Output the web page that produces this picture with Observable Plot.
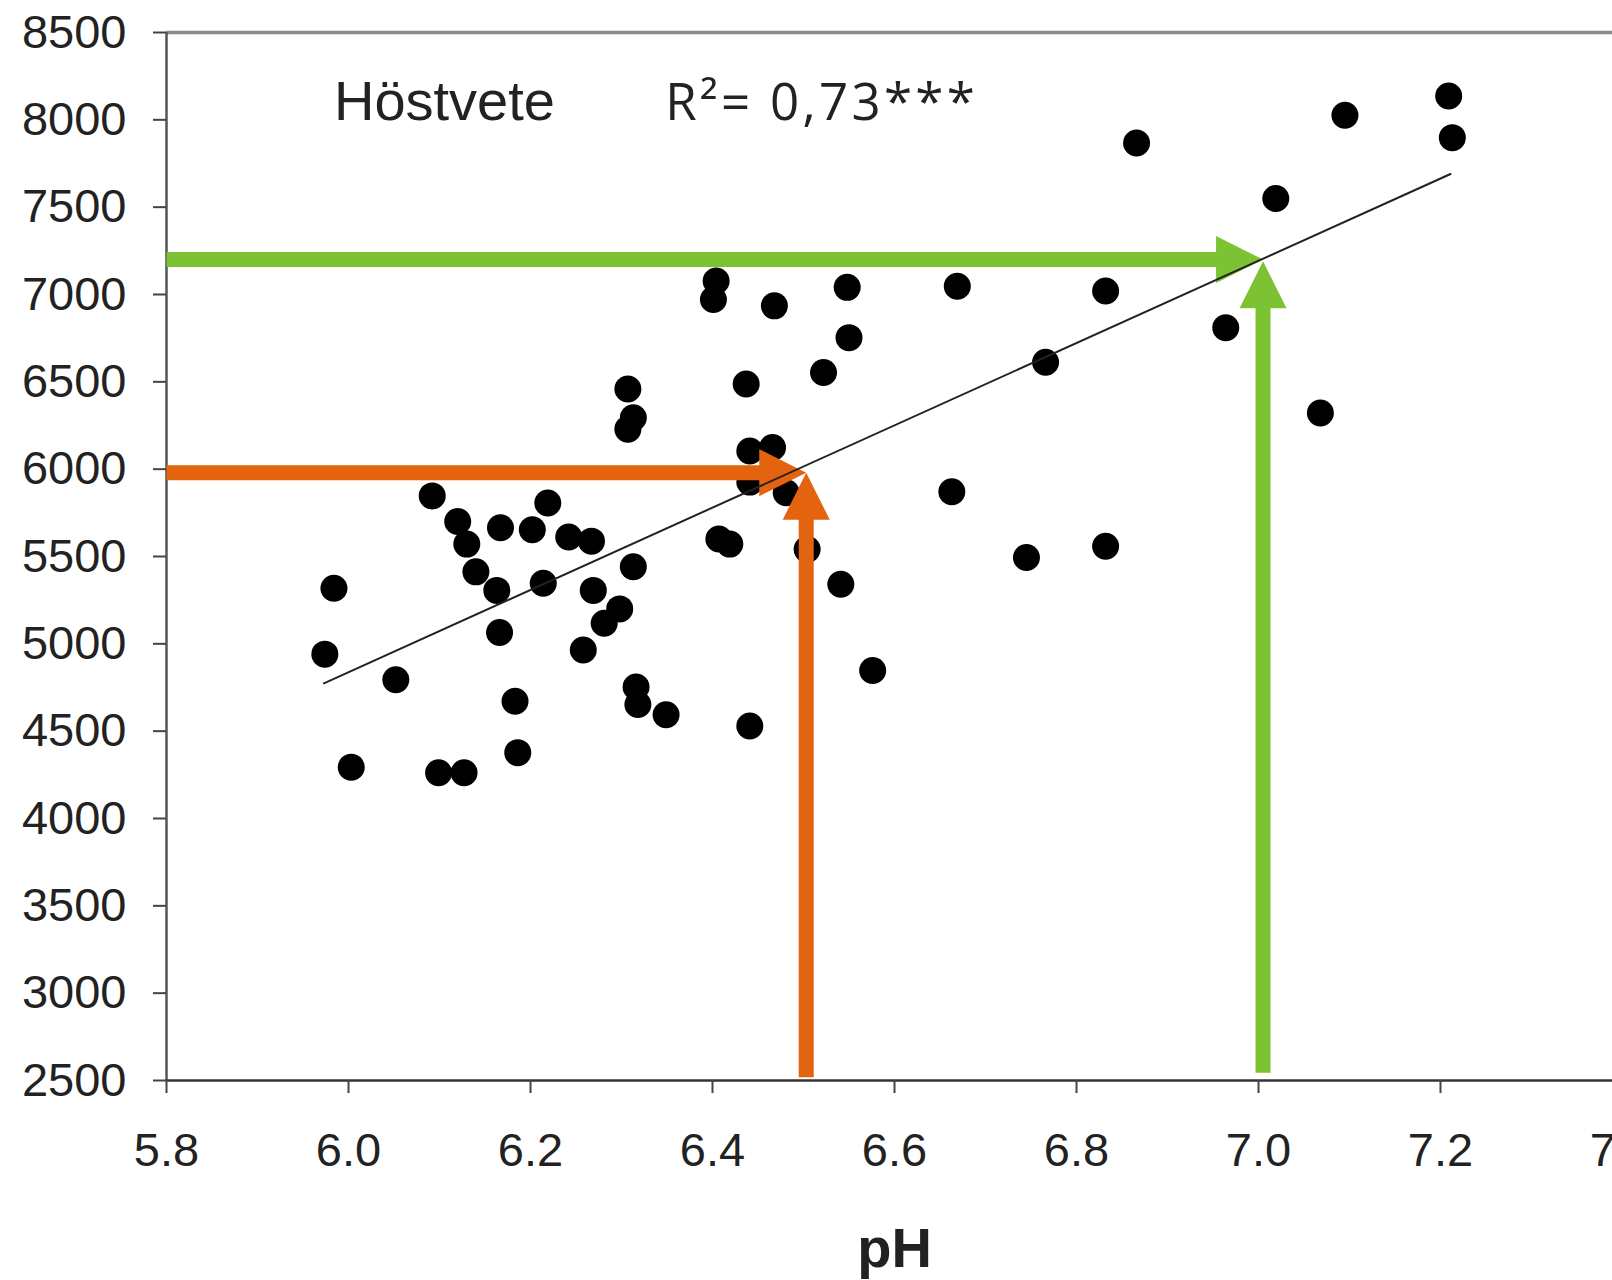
<!DOCTYPE html>
<html>
<head>
<meta charset="utf-8">
<script src="https://cdn.jsdelivr.net/npm/d3@7"></script>
<script src="https://cdn.jsdelivr.net/npm/@observablehq/plot@0.6"></script>
<style>
  html, body { margin: 0; padding: 0; background: #fff; overflow: hidden; }
  #chart { width: 1612px; height: 1280px; overflow: hidden; }
  #chart svg { max-width: none !important; }
  g[font-family="Open Sans"] text { letter-spacing: 3.3px; }
</style>
</head>
<body>
<div id="chart"></div>
<script>
// ---- data ----
const phValues = [5.974, 5.984, 6.003, 6.052, 6.092, 6.099, 6.120, 6.130, 6.127, 6.140,
  6.163, 6.167, 6.166, 6.183, 6.186, 6.202, 6.214, 6.219, 6.242, 6.258,
  6.267, 6.269, 6.281, 6.298, 6.307, 6.313, 6.307, 6.313, 6.316, 6.318,
  6.349, 6.401, 6.404, 6.407, 6.419, 6.437, 6.441, 6.441, 6.441, 6.466,
  6.468, 6.481, 6.504, 6.522, 6.541, 6.548, 6.550, 6.576, 6.663, 6.669,
  6.745, 6.766, 6.832, 6.832, 6.866, 6.964, 7.019, 7.068, 7.095, 7.209, 7.213];
const yieldValues = [4941, 5318, 4294, 4794, 5847, 4262, 5700, 5571, 4262, 5412,
  5306, 5665, 5065, 4671, 4377, 5653, 5347, 5806, 5612, 4965,
  5588, 5306, 5118, 5200, 6459, 6294, 6229, 5441, 4753, 4653,
  4594, 6971, 7077, 5600, 5571, 6488, 6104, 5926, 4530, 6124,
  6935, 5865, 5541, 6553, 5341, 7041, 6753, 4847, 5871, 7047,
  5494, 6612, 7020, 5559, 7867, 6810, 7550, 6322, 8026, 8136, 7898];

const xTicks = [5.8, 6.0, 6.2, 6.4, 6.6, 6.8, 7.0, 7.2, 7.4];
const yTicks = [2500, 3000, 3500, 4000, 4500, 5000, 5500, 6000, 6500, 7000, 7500, 8000, 8500];

// regression line (as drawn in the reference)
const trendPH = [5.973, 7.211];
const trendYield = [4774, 7690];

// reading arrows: from -> to (tip)
const arrowGroup = ["low", "low", "high", "high"];
const arrowFromPH = [5.8, 6.503, 5.8, 7.005];
const arrowFromYield = [5980, 2519, 7200, 2545];
const arrowToPH = [6.503, 6.503, 7.005, 7.005];
const arrowToYield = [5980, 5980, 7200, 7190];

// annotations
const titleText = ["Höstvete"];
const titlePH = [5.984];
const titleYield = [8100];
const r2Text = ["R²= 0,73***"];
const r2PH = [6.348];
const r2Yield = [8094];
const xLabel = ["pH"];

// ---- layout / styles ----
const W = 1650, H = 1280, ML = 166, MR = 28, MT = 32, MB = 200;
const HEAD = 47, HEADW = 47, SHAFT = 15;
const arrowColors = {low: "#e3630f", high: "#7cc233"};

const sx = Plot.scale({x: {domain: [5.8, 7.4], range: [ML, W - MR]}});
const sy = Plot.scale({y: {domain: [2500, 8500], range: [H - MB, MT]}});

const dots = phValues.map((p, i) => ({pH: p, yield: yieldValues[i]}));
const trend = trendPH.map((p, i) => ({pH: p, yield: trendYield[i]}));
const arrows = arrowFromPH.map((_, i) => {
  const px1 = sx.apply(arrowFromPH[i]), py1 = sy.apply(arrowFromYield[i]);
  const px2 = sx.apply(arrowToPH[i]), py2 = sy.apply(arrowToYield[i]);
  const len = Math.hypot(px2 - px1, py2 - py1);
  const ux = (px2 - px1) / len, uy = (py2 - py1) / len;
  const ex = px2 - ux * (HEAD - 2), ey = py2 - uy * (HEAD - 2);
  return {
    x1: arrowFromPH[i], y1: arrowFromYield[i],
    x2: sx.invert(ex), y2: sy.invert(ey),
    tx: arrowToPH[i], ty: arrowToYield[i],
    angle: Math.atan2(ux, -uy) * 180 / Math.PI,
    color: arrowColors[arrowGroup[i]]
  };
});
const arrowHead = {
  draw(ctx) {
    ctx.moveTo(0, 0);
    ctx.lineTo(HEADW / 2, HEAD);
    ctx.lineTo(-HEADW / 2, HEAD);
    ctx.closePath();
  }
};
const titles = titleText.map((t, i) => ({t, pH: titlePH[i], yield: titleYield[i]}));
const r2 = r2Text.map((t, i) => ({t, pH: r2PH[i], yield: r2Yield[i]}));

const chart = Plot.plot({
  width: W,
  height: H,
  marginLeft: ML,
  marginRight: MR,
  marginTop: MT,
  marginBottom: MB,
  x: {domain: [5.8, 7.4], label: null},
  y: {domain: [2500, 8500], label: null},
  style: {fontFamily: "'Liberation Sans', Arial, sans-serif", color: "#222", background: "#fff", overflow: "visible", maxWidth: "none"},
  marks: [
    Plot.ruleY([8500], {stroke: "#8a8a8a", strokeWidth: 3.5}),
    Plot.ruleX([5.8], {stroke: "#555", strokeWidth: 2.5}),
    Plot.ruleY([2500], {stroke: "#333", strokeWidth: 2.5}),
    Plot.axisY({ticks: yTicks, tickFormat: d3.format("d"), tickSize: 13, tickPadding: 27, fontSize: 47, stroke: "#444", strokeWidth: 2, label: null}),
    Plot.axisX({ticks: xTicks, tickFormat: d3.format(".1f"), tickSize: 13, tickPadding: 39, fontSize: 47, stroke: "#444", strokeWidth: 2, label: null}),
    Plot.dot(dots, {x: "pH", y: "yield", r: 13.5, fill: "#000", stroke: "none"}),
    Plot.link(arrows, {x1: "x1", y1: "y1", x2: "x2", y2: "y2", stroke: "color", strokeWidth: SHAFT, strokeLinecap: "butt"}),
    Plot.dot(arrows, {x: "tx", y: "ty", symbol: arrowHead, rotate: "angle", fill: "color", stroke: "none"}),
    Plot.line(trend, {x: "pH", y: "yield", stroke: "#222", strokeWidth: 2}),
    Plot.text(titles, {x: "pH", y: "yield", text: "t", textAnchor: "start", lineAnchor: "middle", fontSize: 56, fill: "#222"}),
    Plot.text(r2, {x: "pH", y: "yield", text: "t", textAnchor: "start", lineAnchor: "middle", fontSize: 51, fontFamily: "Open Sans", fill: "#222"}),
    Plot.text(xLabel, {frameAnchor: "bottom", dy: 169, lineAnchor: "middle", fontSize: 56, fontWeight: "bold", fill: "#222"})
  ]
});
document.getElementById("chart").appendChild(chart);
</script>
</body>
</html>
